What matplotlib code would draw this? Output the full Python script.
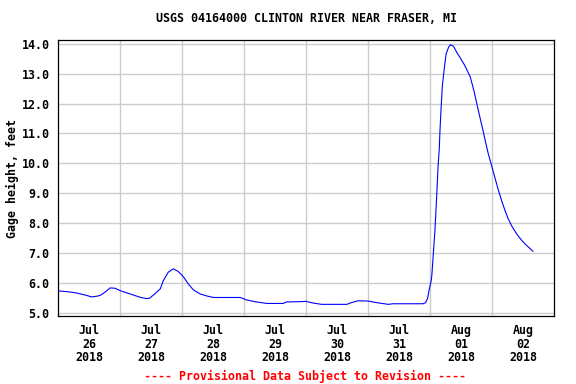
import numpy as np
import pandas as pd
import matplotlib
matplotlib.use("Agg")
import matplotlib.pyplot as plt

# Gage height readings: days since 2018-07-26 00:00 and height in feet
days = [0.0, 0.17, 0.30, 0.46, 0.54, 0.62, 0.68, 0.76, 0.84, 0.92, 1.0,
        1.16, 1.32, 1.43, 1.48, 1.56, 1.65, 1.70, 1.78, 1.86, 1.94, 2.02,
        2.10, 2.18, 2.29, 2.40, 2.51, 2.94, 3.04, 3.20, 3.37, 3.63, 3.69,
        3.90, 4.0, 4.10, 4.25, 4.66, 4.72, 4.84, 5.0, 5.16, 5.33, 5.40,
        5.89, 5.93, 5.96, 5.99, 6.02, 6.03, 6.05, 6.08, 6.11, 6.13, 6.15,
        6.16, 6.18, 6.20, 6.23, 6.26, 6.30, 6.33, 6.38, 6.43, 6.48, 6.56,
        6.65, 6.71, 6.76, 6.81, 6.86, 6.90, 6.94, 6.99, 7.05, 7.10, 7.16,
        7.21, 7.26, 7.32, 7.40, 7.48, 7.56, 7.66]
height = [5.73, 5.70, 5.66, 5.58, 5.53, 5.55, 5.58, 5.69, 5.83, 5.82, 5.74,
          5.63, 5.52, 5.47, 5.49, 5.63, 5.80, 6.08, 6.36, 6.47, 6.38, 6.21,
          5.97, 5.77, 5.63, 5.56, 5.51, 5.51, 5.43, 5.36, 5.31, 5.31, 5.36,
          5.37, 5.38, 5.33, 5.28, 5.28, 5.33, 5.40, 5.39, 5.33, 5.28, 5.30,
          5.30, 5.34, 5.47, 5.80, 6.08, 6.26, 6.87, 7.76, 9.0, 9.9, 10.5,
          11.06, 11.89, 12.61, 13.17, 13.67, 13.89, 13.97, 13.92, 13.72, 13.56, 13.28,
          12.89, 12.42, 11.95, 11.5, 11.05, 10.68, 10.32, 9.95, 9.5, 9.12, 8.72,
          8.42, 8.15, 7.9, 7.63, 7.42, 7.25, 7.06]

start = pd.Timestamp("2018-07-26")
times = start + pd.to_timedelta(days, unit="D")
day_starts = pd.date_range("2018-07-26", "2018-08-02", freq="D")
tick_labels = [d.strftime("%b\n%d\n%Y") for d in day_starts]
y_ticks = np.arange(5, 15)

font = "DejaVu Sans Mono"
fs = 8.4

fig = plt.figure(figsize=(5.76, 3.84), dpi=100)
ax = fig.add_axes([58/576, 1-316/384, 496/576, 276/384])

ax.plot(times, height, color="#0000ff", lw=0.8)

ax.set_xlim(start, pd.Timestamp("2018-08-03"))
ax.set_ylim(4.89, 14.13)

ax.set_yticks(y_ticks)
ax.set_yticklabels([f"{v:.1f}" for v in y_ticks], fontfamily=font,
                   fontweight="bold", fontsize=fs)
ax.set_xticks(day_starts + pd.Timedelta(hours=12))
ax.set_xticklabels(tick_labels, fontfamily=font, fontweight="bold",
                   fontsize=fs, linespacing=1.02)
ax.set_xticks(day_starts[1:], minor=True)

ax.tick_params(axis="both", which="both", length=0)
ax.tick_params(axis="y", pad=6)
ax.tick_params(axis="x", pad=6)
ax.grid(True, which="minor", axis="x", color="#cccccc", lw=1.0)
ax.grid(True, which="major", axis="y", color="#cccccc", lw=1.0)
ax.set_axisbelow(True)
for s in ax.spines.values():
    s.set_linewidth(0.9)

ax.set_ylabel("Gage height, feet", fontfamily=font, fontweight="bold",
              fontsize=fs)
ax.yaxis.set_label_coords(-0.079, 0.5)

fig.text(306/576, 1-19/384, "USGS 04164000 CLINTON RIVER NEAR FRASER, MI",
         ha="center", va="center", fontfamily=font, fontweight="bold",
         fontsize=fs)
fig.text(305/576, 1-376/384, "---- Provisional Data Subject to Revision ----",
         ha="center", va="center", fontfamily=font, fontweight="bold",
         fontsize=fs, color="red")

fig.savefig("out.png", dpi=100)
